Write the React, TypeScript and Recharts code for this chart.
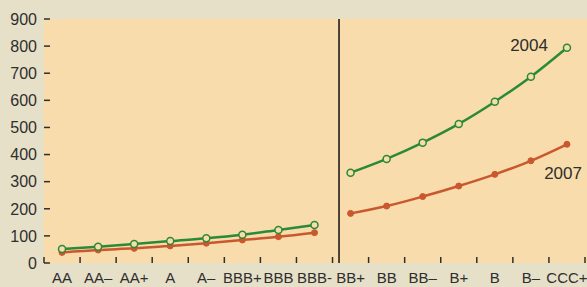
import React from 'react';
import { LineChart, Line, XAxis, YAxis, CartesianGrid, ReferenceLine } from 'recharts';

const categories = ['AA', 'AA–', 'AA+', 'A', 'A–', 'BBB+', 'BBB', 'BBB-', 'BB+', 'BB', 'BB–', 'B+', 'B', 'B–', 'CCC+'];
const values2004 = [52, 60, 70, 81, 91, 104, 122, 140, 333, 384, 444, 513, 595, 687, 794];
const values2007 = [39, 48, 54, 63, 73, 85, 97, 112, 183, 210, 245, 284, 327, 377, 438];
const splitIndex = 8; // first speculative-grade category
const yTicks = [0, 100, 200, 300, 400, 500, 600, 700, 800, 900];

const N = categories.length;
const data: any[] = [];
categories.forEach((c, i) => {
  if (i === splitIndex) data.push({ x: splitIndex, v04: null, v07: null });
  data.push({ x: i + 0.5, cat: c, v04: values2004[i], v07: values2007[i] });
});
// boundaries (integers) get a tick mark, band centres (halves) get a label
const xTicks = Array.from({ length: 2 * N + 1 }, (_, i) => i / 2);

const GREEN = '#2a8a37';
const ORANGE = '#c9582e';
const OUTER = '#e7e0c8';
const PLOT = '#f8dcab';
const TEXT = '#2e2e2e';
const FONT = '"Liberation Sans", Arial, sans-serif';

const lastIndex = data.length - 1;

const label2004 = (p: any) =>
  p.index === lastIndex ? (
    <text x={p.x - 19} y={p.y + 3} textAnchor="end" fontSize={17} fontFamily={FONT} fill={TEXT}>
      2004
    </text>
  ) : null;

const label2007 = (p: any) =>
  p.index === lastIndex ? (
    <text x={p.x + 15} y={p.y + 35} textAnchor="end" fontSize={17} fontFamily={FONT} fill={TEXT}>
      2007
    </text>
  ) : null;

const XTick = (p: any) => {
  const v = p.payload.value;
  if (Number.isInteger(v)) {
    return <line x1={p.x} x2={p.x} y1={p.y} y2={p.y - 6} stroke={TEXT} strokeWidth={1.5} />;
  }
  return (
    <text x={p.x} y={p.y + 20} textAnchor="middle" fontSize={15} fontFamily={FONT} fill={TEXT}>
      {categories[Math.floor(v)]}
    </text>
  );
};

const YTick = (p: any) => (
  <g>
    <line x1={p.x} x2={p.x + 6} y1={p.y} y2={p.y} stroke={TEXT} strokeWidth={1.5} />
    <text x={p.x - 7} y={p.y} dy="0.36em" textAnchor="end" fontSize={16} fontFamily={FONT} fill={TEXT}>
      {p.payload.value}
    </text>
  </g>
);

export default function App() {
  return (
    <div style={{ width: 587, height: 287, background: OUTER }}>
      <style>{'body{margin:0}'}</style>
      <LineChart width={587} height={287} data={data} margin={{ top: 19, right: 0, bottom: 0, left: 0 }}>
        <CartesianGrid horizontal={false} vertical={false} fill={PLOT} stroke="none" />
        <XAxis
          type="number"
          dataKey="x"
          domain={[0, N]}
          ticks={xTicks}
          interval={0}
          tickLine={false}
          axisLine={false}
          height={24}
          tickSize={0}
          tickMargin={0}
          padding={{ left: 0, right: 2 }}
          tick={<XTick />}
        />
        <YAxis
          type="number"
          domain={[0, 900]}
          ticks={yTicks}
          interval={0}
          width={44}
          axisLine={false}
          tickLine={false}
          tickSize={0}
          tickMargin={0}
          tick={<YTick />}
        />
        <ReferenceLine x={splitIndex + 0.18} stroke="#111" strokeWidth={1.5} />
        <Line
          type="monotone"
          dataKey="v07"
          stroke={ORANGE}
          strokeWidth={2.5}
          dot={{ r: 3, fill: ORANGE, stroke: ORANGE, strokeWidth: 1 }}
          isAnimationActive={false}
          label={label2007}
        />
        <Line
          type="monotone"
          dataKey="v04"
          stroke={GREEN}
          strokeWidth={2.5}
          dot={{ r: 3.5, fill: PLOT, stroke: GREEN, strokeWidth: 1.5 }}
          isAnimationActive={false}
          label={label2004}
        />
      </LineChart>
    </div>
  );
}
